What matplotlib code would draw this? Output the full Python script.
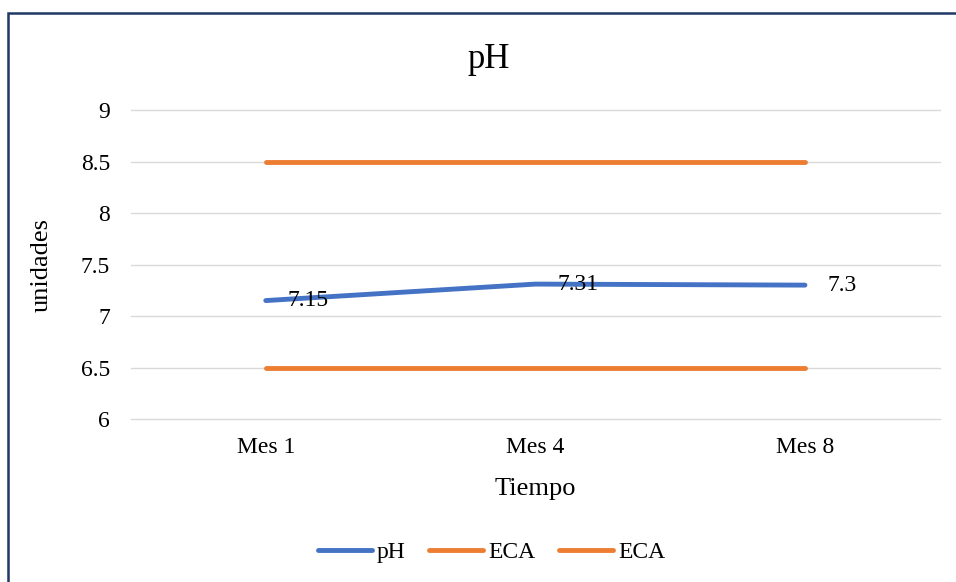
import matplotlib
matplotlib.use("Agg")
import matplotlib.pyplot as plt
from matplotlib.patches import Rectangle

plt.rcParams['font.family'] = ['Liberation Serif', 'DejaVu Serif']

# Data
months = ["Mes 1", "Mes 4", "Mes 8"]
ph_values = [7.15, 7.31, 7.30]
ph_labels = ["7.15", "7.31", "7.3"]
eca_upper = [8.5, 8.5, 8.5]
eca_lower = [6.5, 6.5, 6.5]
y_ticks = [6, 6.5, 7, 7.5, 8, 8.5, 9]
y_tick_labels = ["6", "6.5", "7", "7.5", "8", "8.5", "9"]

blue = "#4472C4"
orange = "#ED7D31"

fig = plt.figure(figsize=(9.56, 5.82), dpi=100)
ax = fig.add_axes([0.137, 0.280, 0.846, 0.531])

x = list(range(len(months)))
ax.plot(x, ph_values, color=blue, lw=3.5, solid_capstyle='round', label="pH", zorder=3)
ax.plot(x, eca_upper, color=orange, lw=3.5, solid_capstyle='round', label="ECA", zorder=3)
ax.plot(x, eca_lower, color=orange, lw=3.5, solid_capstyle='round', label="ECA", zorder=3)

for xi, yi, lab in zip(x, ph_values, ph_labels):
    ax.annotate(lab, (xi, yi), xytext=(16, 0), textcoords='offset points',
                ha='left', va='center', fontsize=17)

ax.set_xlim(-0.5, len(months) - 0.5)
ax.set_ylim(6, 9)
ax.set_xticks(x)
ax.set_xticklabels(months, fontsize=17)
ax.set_yticks(y_ticks)
ax.set_yticklabels(y_tick_labels, fontsize=17)
ax.tick_params(length=0, pad=15)
ax.tick_params(axis='x', pad=13)
ax.grid(axis='y', color='#d9d9d9', lw=1)
for gl in ax.get_ygridlines():
    gl.set_clip_on(False)
ax.set_axisbelow(True)
for s in ax.spines.values():
    s.set_visible(False)

ax.set_xlabel("Tiempo", fontsize=19, labelpad=14)
ax.set_ylabel("unidades", fontsize=19, labelpad=20)
fig.text(0.511, 0.897, "pH", fontsize=25, ha='center', va='center')

fig.legend(loc='center', bbox_to_anchor=(0.514, 0.051), ncol=3, frameon=False,
           fontsize=17, handlelength=2.3, handletextpad=0.2, columnspacing=1.0)

# Chart border (partly cropped at right and bottom)
fig.patches.append(Rectangle((8 / 956, -0.1), 1.2, 1 - 13 / 582 + 0.1,
                             transform=fig.transFigure, fill=False,
                             edgecolor='#1F3864', lw=1.8))

fig.savefig("out.png", dpi=100)
